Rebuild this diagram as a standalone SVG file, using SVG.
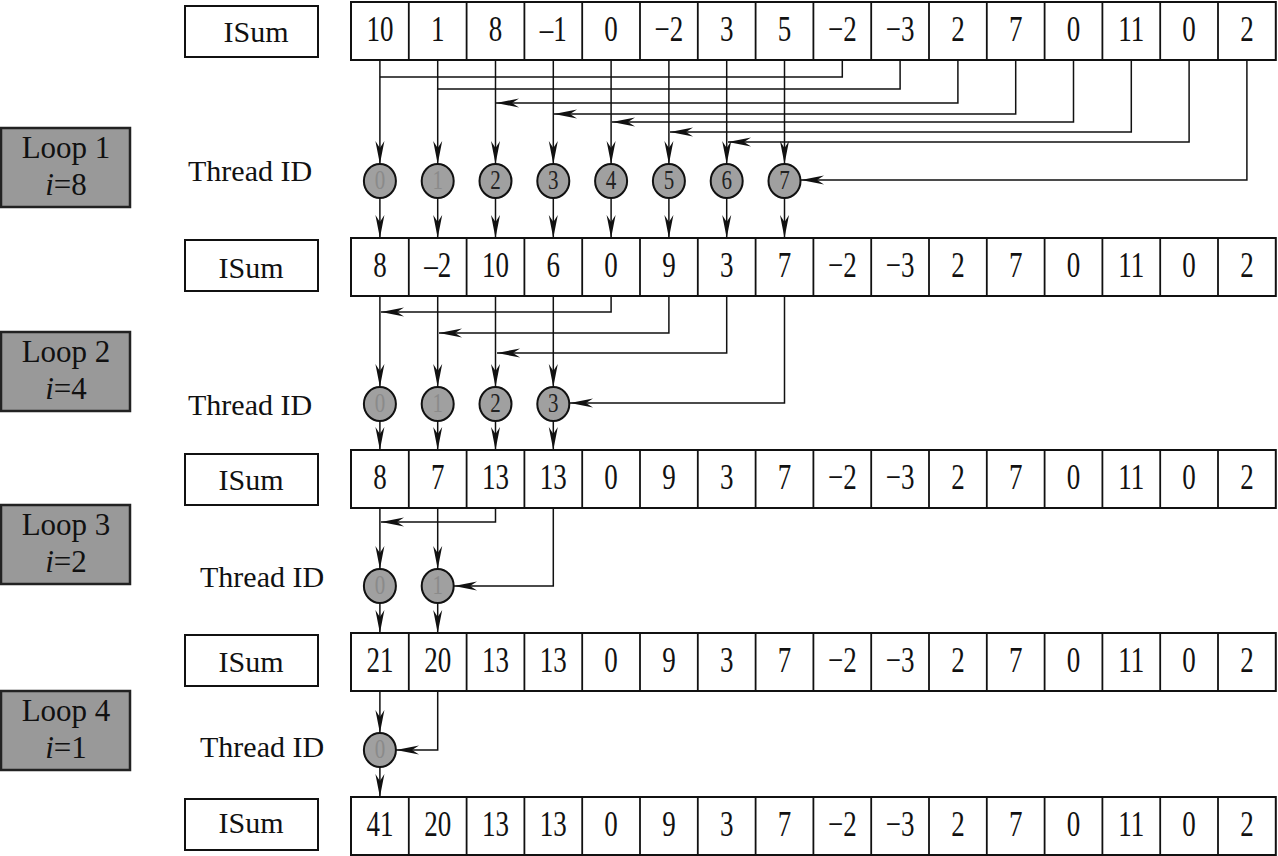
<svg xmlns="http://www.w3.org/2000/svg" width="1278" height="856" viewBox="0 0 1278 856">
<style>
.bg{fill:#fff}
.cell{fill:#fff;stroke:#111;stroke-width:2}
.div{stroke:#111;stroke-width:1.8}
.lbl{fill:#fff;stroke:#111;stroke-width:2}
.loop{fill:#999;stroke:#222;stroke-width:2.5}
.num{font-family:"Liberation Serif",serif;font-size:27px;fill:#111;text-anchor:middle}
.isum{font-family:"Liberation Serif",serif;font-size:30px;fill:#111;text-anchor:middle}
.tid{font-family:"Liberation Serif",serif;font-size:30px;fill:#111}
.lt{font-family:"Liberation Serif",serif;font-size:31px;fill:#111;text-anchor:middle}
.th ellipse{fill:#a0a0a0;stroke:#111;stroke-width:2}
.cd{font-family:"Liberation Serif",serif;font-size:21px;text-anchor:middle;fill:#222}
.cl{fill:#8a8a8a}
.con path{fill:none;stroke:#111;stroke-width:1.5}
.con .a{marker-end:url(#ah)}
</style>
<defs>
<marker id="ah" viewBox="-25 -6 26 12" refX="0" refY="0" markerWidth="26" markerHeight="12" markerUnits="userSpaceOnUse" orient="auto">
<path d="M0,0 L-23,-4.5 L-16,0 L-23,4.5 Z" fill="#111"/>
</marker>
<g id="grid">
<rect class="cell" x="351" y="0" width="924.8" height="58"/>
<path class="div" d="M408.8,0v58M466.6,0v58M524.4,0v58M582.2,0v58M640,0v58M697.8,0v58M755.6,0v58M813.4,0v58M871.2,0v58M929,0v58M986.8,0v58M1044.6,0v58M1102.4,0v58M1160.2,0v58M1218,0v58"/>
</g>
</defs>
<rect class="bg" x="0" y="0" width="1278" height="856"/>

<!-- Loop boxes -->
<g id="loop1"><rect class="loop" x="1" y="128" width="129" height="79"/>
<text class="lt" x="66" y="158">Loop 1</text><text class="lt" x="66" y="195"><tspan font-style="italic">i</tspan>=8</text></g>
<g id="loop2"><rect class="loop" x="1" y="332" width="129" height="79"/>
<text class="lt" x="66" y="362">Loop 2</text><text class="lt" x="66" y="399"><tspan font-style="italic">i</tspan>=4</text></g>
<g id="loop3"><rect class="loop" x="1" y="505" width="129" height="79"/>
<text class="lt" x="66" y="535">Loop 3</text><text class="lt" x="66" y="572"><tspan font-style="italic">i</tspan>=2</text></g>
<g id="loop4"><rect class="loop" x="1" y="691" width="129" height="79"/>
<text class="lt" x="66" y="721">Loop 4</text><text class="lt" x="66" y="758"><tspan font-style="italic">i</tspan>=1</text></g>

<!-- ISum labels -->
<g id="isum1"><rect class="lbl" x="185" y="6" width="133" height="51"/><text class="isum" x="256" y="42">ISum</text></g>
<g id="isum2"><rect class="lbl" x="185" y="240" width="133" height="51"/><text class="isum" x="251" y="278">ISum</text></g>
<g id="isum3"><rect class="lbl" x="185" y="454" width="133" height="51"/><text class="isum" x="251" y="490">ISum</text></g>
<g id="isum4"><rect class="lbl" x="185" y="635" width="133" height="51"/><text class="isum" x="251" y="672">ISum</text></g>
<g id="isum5"><rect class="lbl" x="185" y="799" width="133" height="51"/><text class="isum" x="251" y="833">ISum</text></g>

<!-- Thread ID labels -->
<text class="tid" x="188" y="181">Thread ID</text>
<text class="tid" x="188" y="415">Thread ID</text>
<text class="tid" x="200" y="587">Thread ID</text>
<text class="tid" x="200" y="757">Thread ID</text>

<!-- Arrays -->
<g id="row1"><use href="#grid" y="2"/>
<g transform="translate(0,41) scale(1,1.3)">
<text class="num" x="379.9" y="0">10</text><text class="num" x="437.7" y="0">1</text><text class="num" x="495.5" y="0">8</text><text class="num" x="553.3" y="0">–1</text><text class="num" x="611.1" y="0">0</text><text class="num" x="668.9" y="0">−2</text><text class="num" x="726.7" y="0">3</text><text class="num" x="784.5" y="0">5</text><text class="num" x="842.3" y="0">−2</text><text class="num" x="900.1" y="0">−3</text><text class="num" x="957.9" y="0">2</text><text class="num" x="1015.7" y="0">7</text><text class="num" x="1073.5" y="0">0</text><text class="num" x="1131.3" y="0">11</text><text class="num" x="1189.1" y="0">0</text><text class="num" x="1246.9" y="0">2</text>
</g></g>
<g id="row2"><use href="#grid" y="238"/>
<g transform="translate(0,277) scale(1,1.3)">
<text class="num" x="379.9" y="0">8</text><text class="num" x="437.7" y="0">–2</text><text class="num" x="495.5" y="0">10</text><text class="num" x="553.3" y="0">6</text><text class="num" x="611.1" y="0">0</text><text class="num" x="668.9" y="0">9</text><text class="num" x="726.7" y="0">3</text><text class="num" x="784.5" y="0">7</text><text class="num" x="842.3" y="0">−2</text><text class="num" x="900.1" y="0">−3</text><text class="num" x="957.9" y="0">2</text><text class="num" x="1015.7" y="0">7</text><text class="num" x="1073.5" y="0">0</text><text class="num" x="1131.3" y="0">11</text><text class="num" x="1189.1" y="0">0</text><text class="num" x="1246.9" y="0">2</text>
</g></g>
<g id="row3"><use href="#grid" y="450"/>
<g transform="translate(0,489) scale(1,1.3)">
<text class="num" x="379.9" y="0">8</text><text class="num" x="437.7" y="0">7</text><text class="num" x="495.5" y="0">13</text><text class="num" x="553.3" y="0">13</text><text class="num" x="611.1" y="0">0</text><text class="num" x="668.9" y="0">9</text><text class="num" x="726.7" y="0">3</text><text class="num" x="784.5" y="0">7</text><text class="num" x="842.3" y="0">−2</text><text class="num" x="900.1" y="0">−3</text><text class="num" x="957.9" y="0">2</text><text class="num" x="1015.7" y="0">7</text><text class="num" x="1073.5" y="0">0</text><text class="num" x="1131.3" y="0">11</text><text class="num" x="1189.1" y="0">0</text><text class="num" x="1246.9" y="0">2</text>
</g></g>
<g id="row4"><use href="#grid" y="633"/>
<g transform="translate(0,672) scale(1,1.3)">
<text class="num" x="379.9" y="0">21</text><text class="num" x="437.7" y="0">20</text><text class="num" x="495.5" y="0">13</text><text class="num" x="553.3" y="0">13</text><text class="num" x="611.1" y="0">0</text><text class="num" x="668.9" y="0">9</text><text class="num" x="726.7" y="0">3</text><text class="num" x="784.5" y="0">7</text><text class="num" x="842.3" y="0">−2</text><text class="num" x="900.1" y="0">−3</text><text class="num" x="957.9" y="0">2</text><text class="num" x="1015.7" y="0">7</text><text class="num" x="1073.5" y="0">0</text><text class="num" x="1131.3" y="0">11</text><text class="num" x="1189.1" y="0">0</text><text class="num" x="1246.9" y="0">2</text>
</g></g>
<g id="row5"><use href="#grid" y="797"/>
<g transform="translate(0,836) scale(1,1.3)">
<text class="num" x="379.9" y="0">41</text><text class="num" x="437.7" y="0">20</text><text class="num" x="495.5" y="0">13</text><text class="num" x="553.3" y="0">13</text><text class="num" x="611.1" y="0">0</text><text class="num" x="668.9" y="0">9</text><text class="num" x="726.7" y="0">3</text><text class="num" x="784.5" y="0">7</text><text class="num" x="842.3" y="0">−2</text><text class="num" x="900.1" y="0">−3</text><text class="num" x="957.9" y="0">2</text><text class="num" x="1015.7" y="0">7</text><text class="num" x="1073.5" y="0">0</text><text class="num" x="1131.3" y="0">11</text><text class="num" x="1189.1" y="0">0</text><text class="num" x="1246.9" y="0">2</text>
</g></g>

<!-- Connectors -->
<g id="connectors" class="con">
<!-- loop 1 -->
<path class="a" d="M379.9,60V164"/><path class="a" d="M437.7,60V164"/><path class="a" d="M495.5,60V164"/><path class="a" d="M553.3,60V164"/>
<path class="a" d="M611.1,60V164"/><path class="a" d="M668.9,60V164"/><path class="a" d="M726.7,60V164"/><path class="a" d="M784.5,60V164"/>
<path d="M842.3,60V77H379.9"/>
<path d="M900.1,60V89H437.7"/>
<path class="a" d="M957.9,60V103H496"/>
<path class="a" d="M1015.7,60V114H554"/>
<path class="a" d="M1073.5,60V122H612"/>
<path class="a" d="M1131.3,60V132H670"/>
<path class="a" d="M1189.1,60V142H728"/>
<path class="a" d="M1246.9,60V180H801"/>
<path class="a" d="M379.9,198V238"/><path class="a" d="M437.7,198V238"/><path class="a" d="M495.5,198V238"/><path class="a" d="M553.3,198V238"/>
<path class="a" d="M611.1,198V238"/><path class="a" d="M668.9,198V238"/><path class="a" d="M726.7,198V238"/><path class="a" d="M784.5,198V238"/>
<!-- loop 2 -->
<path class="a" d="M379.9,296V387"/><path class="a" d="M437.7,296V387"/><path class="a" d="M495.5,296V387"/><path class="a" d="M553.3,296V387"/>
<path class="a" d="M611.1,296V312H381"/>
<path class="a" d="M668.9,296V333H439"/>
<path class="a" d="M726.7,296V353H497"/>
<path class="a" d="M784.5,296V403H570"/>
<path class="a" d="M379.9,421V450"/><path class="a" d="M437.7,421V450"/><path class="a" d="M495.5,421V450"/><path class="a" d="M553.3,421V450"/>
<!-- loop 3 -->
<path class="a" d="M379.9,508V569"/><path class="a" d="M437.7,508V569"/>
<path class="a" d="M495.5,508V522H381"/>
<path class="a" d="M553.3,508V586H454"/>
<path class="a" d="M379.9,603V633"/><path class="a" d="M437.7,603V633"/>
<!-- loop 4 -->
<path class="a" d="M379.9,691V733"/>
<path class="a" d="M437.7,691V750H396"/>
<path class="a" d="M379.9,767V797"/>
</g>

<!-- Thread circles -->
<g id="threads1" class="th">
<ellipse cx="379.9" cy="181" rx="16" ry="17"/><ellipse cx="437.7" cy="181" rx="16" ry="17"/><ellipse cx="495.5" cy="181" rx="16" ry="17"/><ellipse cx="553.3" cy="181" rx="16" ry="17"/>
<ellipse cx="611.1" cy="181" rx="16" ry="17"/><ellipse cx="668.9" cy="181" rx="16" ry="17"/><ellipse cx="726.7" cy="181" rx="16" ry="17"/><ellipse cx="784.5" cy="181" rx="16" ry="17"/>
<g transform="translate(0,189) scale(1,1.25)">
<text class="cd cl" x="379.9" y="0">0</text><text class="cd cl" x="437.7" y="0">1</text><text class="cd" x="495.5" y="0">2</text><text class="cd" x="553.3" y="0">3</text><text class="cd" x="611.1" y="0">4</text><text class="cd" x="668.9" y="0">5</text><text class="cd" x="726.7" y="0">6</text><text class="cd" x="784.5" y="0">7</text>
</g></g>
<g id="threads2" class="th">
<ellipse cx="379.9" cy="404" rx="16" ry="17"/><ellipse cx="437.7" cy="404" rx="16" ry="17"/><ellipse cx="495.5" cy="404" rx="16" ry="17"/><ellipse cx="553.3" cy="404" rx="16" ry="17"/>
<g transform="translate(0,412) scale(1,1.25)">
<text class="cd cl" x="379.9" y="0">0</text><text class="cd cl" x="437.7" y="0">1</text><text class="cd" x="495.5" y="0">2</text><text class="cd" x="553.3" y="0">3</text>
</g></g>
<g id="threads3" class="th">
<ellipse cx="379.9" cy="586" rx="16" ry="17"/><ellipse cx="437.7" cy="586" rx="16" ry="17"/>
<g transform="translate(0,594) scale(1,1.25)">
<text class="cd cl" x="379.9" y="0">0</text><text class="cd cl" x="437.7" y="0">1</text>
</g></g>
<g id="threads4" class="th">
<ellipse cx="379.9" cy="750" rx="16" ry="17"/>
<g transform="translate(0,758) scale(1,1.25)">
<text class="cd cl" x="379.9" y="0">0</text>
</g></g>
</svg>
